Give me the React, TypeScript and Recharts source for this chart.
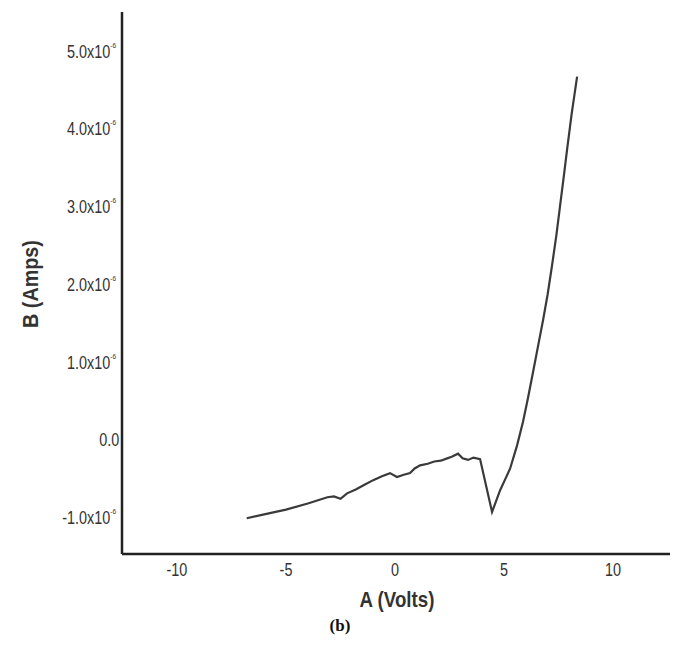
import { Line, LineChart, XAxis, YAxis } from "recharts";

// A in volts, B in units of 1e-6 amps
const voltsA = [
  -6.8, -6.0, -5.0, -4.0, -3.1, -2.8, -2.5, -2.2, -1.8, -1.4, -1.0, -0.6, -0.23, 0.09, 0.4, 0.69, 0.9, 1.15, 1.5,
  1.8, 2.1, 2.39, 2.6, 2.89, 3.1, 3.35, 3.6, 3.9, 4.45, 4.82, 5.05, 5.28, 5.6, 5.87, 6.1, 6.33, 6.55, 6.79, 7.0, 7.2,
  7.4, 7.57, 7.75, 7.89, 8.1, 8.35,
];
const ampsB = [
  -1.0, -0.95, -0.89, -0.81, -0.73, -0.72, -0.75, -0.68, -0.63, -0.57, -0.51, -0.46, -0.42, -0.47, -0.44, -0.42, -0.36,
  -0.32, -0.3, -0.27, -0.26, -0.23, -0.21, -0.17, -0.23, -0.25, -0.22, -0.24, -0.92, -0.64, -0.5, -0.36, -0.06, 0.24,
  0.55, 0.88, 1.2, 1.55, 1.88, 2.25, 2.64, 3.02, 3.42, 3.74, 4.2, 4.68,
];
const xTicks = [-10, -5, 0, 5, 10];
const yTicks = [-1, 0, 1, 2, 3, 4, 5];

const data = voltsA.map((a, i) => ({ a, b: ampsB[i] }));

const FONT = "'Liberation Sans', Arial, sans-serif";
const SQUEEZE = 0.8;

function YTick({ x, y, payload }: any) {
  const v = payload.value as number;
  return (
    <g transform={`translate(${x + 2}, ${y + 6}) scale(${SQUEEZE}, 1)`}>
      {v === 0 ? (
        <text x={4} y={0} textAnchor="end" fontFamily={FONT} fontSize={18} fill="#333">
          0.0
        </text>
      ) : (
        <text x={0} y={0} textAnchor="end" fontFamily={FONT} fontSize={18} fill="#333">
          {v.toFixed(1)}x10
          <tspan fontSize={8} dy={-10}>
            -6
          </tspan>
        </text>
      )}
    </g>
  );
}

function XTick({ x, y, payload }: any) {
  return (
    <g transform={`translate(${x}, ${y + 14}) scale(${SQUEEZE}, 1)`}>
      <text x={0} y={0} textAnchor="middle" fontFamily={FONT} fontSize={18} fill="#333">
        {payload.value}
      </text>
    </g>
  );
}

export default function App() {
  return (
    <div style={{ position: "absolute", left: 0, top: 0, width: 675, height: 648, background: "#fff" }}>
      <LineChart width={675} height={648} data={data} margin={{ top: 12, right: 5, bottom: 0, left: 0 }}>
        <XAxis
          type="number"
          dataKey="a"
          domain={[-12.52, 12.61]}
          ticks={xTicks}
          allowDataOverflow
          height={94}
          tickLine={false}
          axisLine={{ stroke: "#222", strokeWidth: 2.5 }}
          tick={<XTick />}
          label={{
            content: () => (
              <g transform={`translate(397, 607) scale(0.85, 1)`}>
                <text x={0} y={0} textAnchor="middle" fontFamily={FONT} fontSize={22} fontWeight="bold" fill="#333">
                  A (Volts)
                </text>
              </g>
            ),
          }}
        />
        <YAxis
          type="number"
          domain={[-1.46, 5.51]}
          ticks={yTicks}
          allowDataOverflow
          width={122}
          tickLine={false}
          axisLine={{ stroke: "#222", strokeWidth: 2.5 }}
          tick={<YTick />}
          label={{
            content: () => (
              <g transform="translate(38, 284) rotate(-90) scale(0.9, 1)">
                <text x={0} y={0} textAnchor="middle" fontFamily={FONT} fontSize={22} fontWeight="bold" fill="#333">
                  B (Amps)
                </text>
              </g>
            ),
          }}
        />
        <Line
          type="linear"
          dataKey="b"
          stroke="#3a3a3a"
          strokeWidth={2.2}
          dot={false}
          isAnimationActive={false}
        />
      </LineChart>
      <div
        style={{
          position: "absolute",
          left: 0,
          width: 680,
          top: 616,
          textAlign: "center",
          fontFamily: "'Liberation Serif', 'Times New Roman', serif",
          fontWeight: "bold",
          fontSize: 17,
          color: "#111",
        }}
      >
        (b)
      </div>
    </div>
  );
}
